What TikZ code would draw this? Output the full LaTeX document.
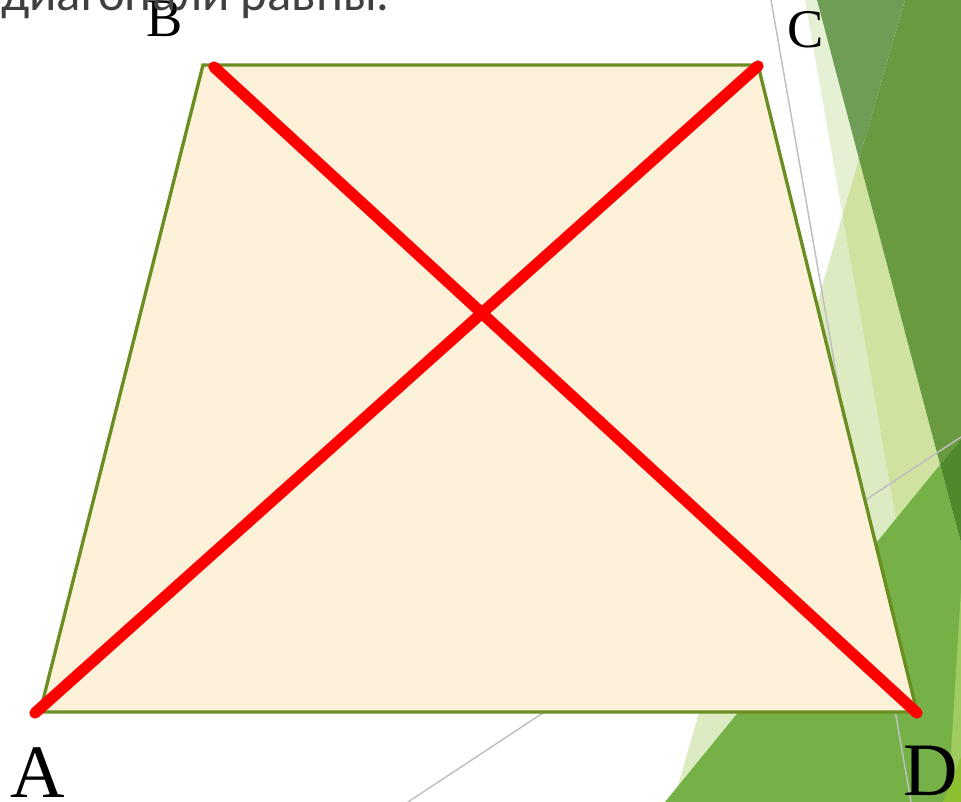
\documentclass[tikz,border=0pt]{standalone}
\usepackage{fontspec}
\setmainfont{Liberation Serif}
\newfontfamily\captionfont{Carlito}
\usepackage{xcolor}
\usetikzlibrary{positioning, calc}
\definecolor{edgegreen}{RGB}{107,142,35}
\definecolor{paper}{RGB}{253,241,218}
\definecolor{diagred}{RGB}{255,0,0}
\definecolor{textgray}{RGB}{64,64,64}
\definecolor{paleA}{RGB}{229,240,213}
\definecolor{paleB}{RGB}{220,235,194}
\definecolor{paleC}{RGB}{207,226,160}
\definecolor{darkA}{RGB}{106,154,64}
\definecolor{darkB}{RGB}{111,157,85}
\definecolor{midgreen}{RGB}{118,177,72}
\definecolor{deepgreen}{RGB}{78,138,44}
\definecolor{lightgreen}{RGB}{158,204,96}
\definecolor{limegreen}{RGB}{141,192,48}

\begin{document}
\begin{tikzpicture}[x=0.75pt, y=-0.75pt,
    facet/.style={draw=none},
    guide/.style={line width=1.1pt, black!25},
    diagline/.style={line width=8.5pt, diagred, line cap=round},
    biglabel/.style={font=\fontsize{56.6}{60}\selectfont, anchor=base, inner sep=0pt},
    smalllabel/.style={font=\fontsize{40.8}{44}\selectfont, anchor=base, inner sep=0pt}]
    \useasboundingbox (0,0) rectangle (961,802);
    \clip (0,0) rectangle (961,802);

    % Background facets on the right
    \fill[paleA, facet] (805,0) -- (817,0) -- (859,159) -- (842.6,215) -- cycle;
    \fill[paleB, facet] (842.6,215) -- (677.7,786.4) -- (895.8,519) -- cycle;
    \fill[paleC, facet] (859,159) -- (842.6,215) -- (895.8,519) -- (940.1,464.6) -- cycle;
    \fill[darkB, facet] (817,0) -- (905,0) -- (859,159) -- cycle;
    \fill[darkA, facet] (905,0) -- (961,0) -- (961,439) -- (940.1,464.6) -- (859,159) -- cycle;
    \fill[midgreen, facet] (665,802) -- (940.1,464.6) -- (961,543) -- (961,802) -- cycle;
    \fill[deepgreen, facet] (940.1,464.6) -- (961,439) -- (961,543) -- cycle;
    \fill[lightgreen, facet] (961,590) -- (961,802) -- (948,802) -- cycle;
    \fill[limegreen, facet] (961,757) -- (961,802) -- (943,802) -- cycle;

    % Thin guide lines behind the figure
    \coordinate (g1s) at (771,0);
    \coordinate (g1e) at (911,802);
    \coordinate (g2s) at (408,802);
    \coordinate (g2e) at (961,437);
    \draw[guide] (g1s) -- (g1e);
    \draw[guide] (g2s) -- (g2e);

    % Trapezoid
    \coordinate (A) at (40,712);
    \coordinate (B) at (203,65);
    \coordinate (C) at (758,65);
    \coordinate (D) at (917,712);
    \filldraw[fill=paper, draw=edgegreen, line width=2.5pt] (A) -- (B) -- (C) -- (D) -- cycle;

    % Diagonals
    \coordinate (dA) at (35,713);
    \coordinate (dB) at (214,67);
    \coordinate (dC) at (758,66);
    \coordinate (dD) at (917,713);
    \draw[diagline] (dA) -- (dC);
    \draw[diagline] (dB) -- (dD);

    % Vertex labels
    \node[biglabel] (labA) at (38,797) {A};
    \node[smalllabel] (labB) at (165,37) {B};
    \node[smalllabel] (labC) at (806,48) {C};
    \node[biglabel] (labD) at (931,795) {D};

    % Caption cut off at the top
    \node[font=\captionfont\fontsize{38}{40}\selectfont, textgray, anchor=base east, inner sep=0pt] (caption) at (390,11) {диагонали равны.};
\end{tikzpicture}
\end{document}
